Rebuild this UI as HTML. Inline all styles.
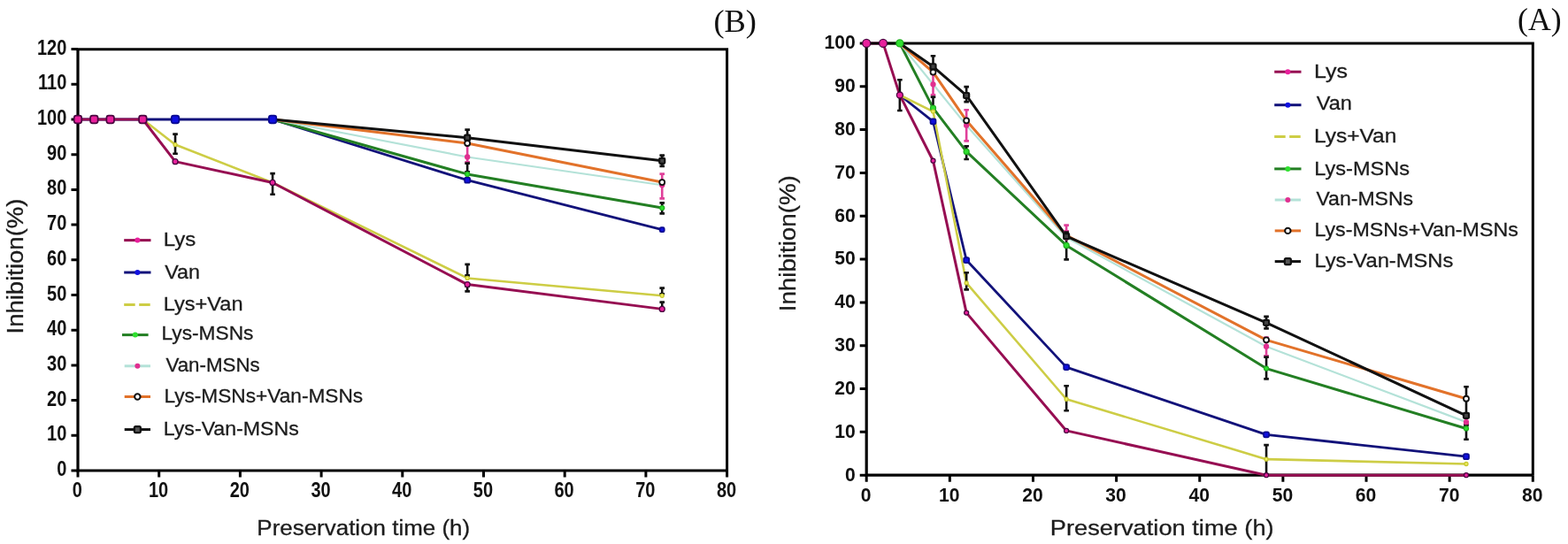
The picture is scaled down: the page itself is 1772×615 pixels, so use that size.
<!DOCTYPE html><html><head><meta charset="utf-8"><title>Inhibition vs preservation time</title><style>
html,body{margin:0;padding:0;background:#fff;width:1772px;height:615px;overflow:hidden}
svg{display:block}
.tk{font-family:"Liberation Sans", Arial, sans-serif;font-weight:bold;font-size:22px;fill:#111}.tkL{font-family:"Liberation Sans", Arial, sans-serif;font-weight:bold;font-size:23px;fill:#111}.tkR{font-family:"Liberation Sans", Arial, sans-serif;font-weight:bold;font-size:22.5px;fill:#111}.ax{font-family:"Liberation Sans", Arial, sans-serif;font-size:24px;fill:#1c1c1c;stroke:#1c1c1c;stroke-width:0.3px}.ay{font-family:"Liberation Sans", Arial, sans-serif;font-size:26px;fill:#1c1c1c;stroke:#1c1c1c;stroke-width:0.3px}.lg{font-family:"Liberation Sans", Arial, sans-serif;font-size:22.5px;fill:#1c1c1c;stroke:#1c1c1c;stroke-width:0.3px}.pl{font-family:"Liberation Serif", "Times New Roman", serif;font-size:36px;fill:#111}
</style></head><body>
<svg width="1772" height="615" viewBox="0 0 1772 615">
<rect width="1772" height="615" fill="#fff"/>
<path d="M80.5 532H88M80.5 492.3H88M80.5 452.6H88M80.5 412.9H88M80.5 373.2H88M80.5 333.5H88M80.5 293.8H88M80.5 254.1H88M80.5 214.4H88M80.5 174.7H88M80.5 135H88M80.5 95.3H88M80.5 55.6H88M88 532V539.5M179.7 532V539.5M271.4 532V539.5M363.1 532V539.5M454.8 532V539.5M546.5 532V539.5M638.2 532V539.5M729.9 532V539.5M821.6 532V539.5" stroke="#000" stroke-width="3"/>
<text class="tkL" transform="translate(75.3 538) scale(0.87 1)" text-anchor="end">0</text>
<text class="tkL" transform="translate(75.3 498.3) scale(0.87 1)" text-anchor="end">10</text>
<text class="tkL" transform="translate(75.3 458.6) scale(0.87 1)" text-anchor="end">20</text>
<text class="tkL" transform="translate(75.3 418.9) scale(0.87 1)" text-anchor="end">30</text>
<text class="tkL" transform="translate(75.3 379.2) scale(0.87 1)" text-anchor="end">40</text>
<text class="tkL" transform="translate(75.3 339.5) scale(0.87 1)" text-anchor="end">50</text>
<text class="tkL" transform="translate(75.3 299.8) scale(0.87 1)" text-anchor="end">60</text>
<text class="tkL" transform="translate(75.3 260.1) scale(0.87 1)" text-anchor="end">70</text>
<text class="tkL" transform="translate(75.3 220.4) scale(0.87 1)" text-anchor="end">80</text>
<text class="tkL" transform="translate(75.3 180.7) scale(0.87 1)" text-anchor="end">90</text>
<text class="tkL" transform="translate(75.3 141) scale(0.87 1)" text-anchor="end">100</text>
<text class="tkL" transform="translate(75.3 101.3) scale(0.87 1)" text-anchor="end">110</text>
<text class="tkL" transform="translate(75.3 61.6) scale(0.87 1)" text-anchor="end">120</text>
<text class="tkL" transform="translate(87.4 562) scale(0.87 1)" text-anchor="middle">0</text>
<text class="tkL" transform="translate(179.1 562) scale(0.87 1)" text-anchor="middle">10</text>
<text class="tkL" transform="translate(270.8 562) scale(0.87 1)" text-anchor="middle">20</text>
<text class="tkL" transform="translate(362.5 562) scale(0.87 1)" text-anchor="middle">30</text>
<text class="tkL" transform="translate(454.2 562) scale(0.87 1)" text-anchor="middle">40</text>
<text class="tkL" transform="translate(545.9 562) scale(0.87 1)" text-anchor="middle">50</text>
<text class="tkL" transform="translate(637.6 562) scale(0.87 1)" text-anchor="middle">60</text>
<text class="tkL" transform="translate(729.3 562) scale(0.87 1)" text-anchor="middle">70</text>
<text class="tkL" transform="translate(821 562) scale(0.87 1)" text-anchor="middle">80</text>
<text class="ax" transform="translate(290.34 605.2) scale(1.0817 1)">Preservation time (h)</text>
<text class="ay" transform="translate(26 377.52) rotate(-90) scale(1.0596 1)">Inhibition(%)</text>
<text class="pl" transform="translate(806.38 36.2) scale(1.0114 1)">(B)</text>
<path d="M88 55.8V532H821.6" fill="none" stroke="#000" stroke-width="3.2"/>
<path d="M88 135 L308.08 135 L528.16 203.68 L748.24 259.66" fill="none" stroke="#12127A" stroke-width="2.8" stroke-linejoin="round"/>
<path d="M308.08 135 L528.16 196.93 L748.24 235.04" fill="none" stroke="#237F23" stroke-width="3" stroke-linejoin="round"/>
<path d="M308.08 135 L528.16 177.48 L748.24 209.24" fill="none" stroke="#B4E2D8" stroke-width="2.2" stroke-linejoin="round"/>
<path d="M308.08 135 L528.16 162 L748.24 206.06" fill="none" stroke="#E2722A" stroke-width="3" stroke-linejoin="round"/>
<path d="M308.08 135 L528.16 155.64 L748.24 181.85" fill="none" stroke="#111111" stroke-width="3" stroke-linejoin="round"/>
<path d="M161.36 135 L198.04 163.58 L308.08 206.46 L528.16 314.44 L748.24 334.29" fill="none" stroke="#CDCD45" stroke-width="2.6" stroke-linejoin="round"/>
<path d="M88 135 L106.34 135 L124.68 135 L161.36 135 L198.04 182.64 L308.08 206.46 L528.16 321.59 L748.24 349.38" fill="none" stroke="#960E52" stroke-width="3" stroke-linejoin="round"/>
<path d="M86.4 55.8H821.6V532" fill="none" stroke="#000" stroke-width="3"/>
<path d="M198.04 151V174.4M195.24 151.6H200.84M195.24 173.8H200.84" stroke="#111" stroke-width="2.6"/>
<path d="M308.08 195.5V220.3M305.28 196.1H310.88M305.28 219.7H310.88" stroke="#111" stroke-width="2.6"/>
<path d="M528.16 146V158M525.36 146.6H530.96M525.36 157.4H530.96" stroke="#111" stroke-width="2.6"/>
<path d="M528.16 163V184M525.36 163.6H530.96M525.36 183.4H530.96" stroke="#E0409A" stroke-width="2.6"/>
<path d="M528.16 184V195M525.36 184.6H530.96M525.36 194.4H530.96" stroke="#111" stroke-width="2.6"/>
<path d="M528.16 298.3V312M525.36 298.9H530.96M525.36 311.4H530.96" stroke="#111" stroke-width="2.6"/>
<path d="M528.16 323V330M525.36 323.6H530.96M525.36 329.4H530.96" stroke="#111" stroke-width="2.6"/>
<path d="M748.24 175V188.5M745.44 175.6H751.04M745.44 187.9H751.04" stroke="#111" stroke-width="2.6"/>
<path d="M748.24 196V225M745.44 196.6H751.04M745.44 224.4H751.04" stroke="#E0409A" stroke-width="2.6"/>
<path d="M748.24 228.8V242M745.44 229.4H751.04M745.44 241.4H751.04" stroke="#111" stroke-width="2.6"/>
<path d="M748.24 325V333M745.44 325.6H751.04M745.44 332.4H751.04" stroke="#111" stroke-width="2.6"/>
<path d="M748.24 341V349.5M745.44 341.6H751.04M745.44 348.9H751.04" stroke="#111" stroke-width="2.6"/>
<rect x="193.74" y="130.7" width="8.6" height="8.6" rx="2.58" fill="#1010E0" stroke="#0A0A90" stroke-width="1.7"/>
<rect x="303.78" y="130.7" width="8.6" height="8.6" rx="2.58" fill="#1010E0" stroke="#0A0A90" stroke-width="1.7"/>
<rect x="525.16" y="200.68" width="6" height="6" rx="1.8" fill="#1010E0" stroke="#0A0A90" stroke-width="1.7"/>
<rect x="745.74" y="257.16" width="5" height="5" rx="1.5" fill="#1010E0" stroke="#0A0A90" stroke-width="1.7"/>
<circle cx="528.16" cy="196.93" r="2.5" fill="#30E030" stroke="#20B020" stroke-width="1.3"/>
<circle cx="748.24" cy="235.04" r="2.5" fill="#30E030" stroke="#20B020" stroke-width="1.3"/>
<circle cx="528.16" cy="177.48" r="2.5" fill="#E03090" stroke="#E03090" stroke-width="1.3"/>
<circle cx="748.24" cy="209.24" r="2.5" fill="#E03090" stroke="#E03090" stroke-width="1.3"/>
<circle cx="528.16" cy="162" r="3" fill="#fff" stroke="#111" stroke-width="1.8"/>
<circle cx="748.24" cy="206.06" r="3" fill="#fff" stroke="#111" stroke-width="1.8"/>
<rect x="525.16" y="152.64" width="6" height="6" rx="1" fill="#444" stroke="#111" stroke-width="2.2"/>
<rect x="745.24" y="178.85" width="6" height="6" rx="1" fill="#444" stroke="#111" stroke-width="2.2"/>
<circle cx="198.04" cy="163.58" r="2" fill="#F0F060" stroke="#C8C830" stroke-width="1.3"/>
<circle cx="528.16" cy="314.44" r="2" fill="#F0F060" stroke="#C8C830" stroke-width="1.3"/>
<circle cx="748.24" cy="334.29" r="2" fill="#F0F060" stroke="#C8C830" stroke-width="1.3"/>
<rect x="83.7" y="130.7" width="8.6" height="8.6" rx="2.58" fill="#E8209C" stroke="#4A0640" stroke-width="1.7"/>
<rect x="102.04" y="130.7" width="8.6" height="8.6" rx="2.58" fill="#E8209C" stroke="#4A0640" stroke-width="1.7"/>
<rect x="120.38" y="130.7" width="8.6" height="8.6" rx="2.58" fill="#E8209C" stroke="#4A0640" stroke-width="1.7"/>
<rect x="157.06" y="130.7" width="8.6" height="8.6" rx="2.58" fill="#E8209C" stroke="#4A0640" stroke-width="1.7"/>
<circle cx="198.04" cy="182.64" r="3" fill="#E8209C" stroke="#4A0640" stroke-width="1.3"/>
<circle cx="308.08" cy="206.46" r="3" fill="#E8209C" stroke="#4A0640" stroke-width="1.3"/>
<circle cx="528.16" cy="321.59" r="3" fill="#E8209C" stroke="#4A0640" stroke-width="1.3"/>
<circle cx="748.24" cy="349.38" r="3" fill="#E8209C" stroke="#4A0640" stroke-width="1.3"/>
<path d="M140.2 271.6H170.5" stroke="#960E52" stroke-width="3"/>
<circle cx="155.35" cy="271.6" r="3" fill="#E8209C"/>
<text class="lg" transform="translate(184.77 277.8) scale(1.0656 1)">Lys</text>
<path d="M140.2 308H170.5" stroke="#12127A" stroke-width="3"/>
<circle cx="155.35" cy="308" r="3" fill="#1010E0"/>
<text class="lg" transform="translate(186.2 314.9) scale(1.0351 1)">Van</text>
<path d="M140.2 344.5H170.5" stroke="#CDCD45" stroke-width="3" stroke-dasharray="12.5 4.5"/>
<text class="lg" transform="translate(184.8 351.3) scale(1.0482 1)">Lys+Van</text>
<path d="M138 378.6H167.6" stroke="#237F23" stroke-width="3"/>
<circle cx="152.8" cy="378.6" r="3" fill="#30E030"/>
<text class="lg" transform="translate(182.58 384.3) scale(1.0090 1)">Lys-MSNs</text>
<path d="M140.7 413.8H170" stroke="#B4E2D8" stroke-width="3"/>
<circle cx="155.35" cy="413.8" r="3" fill="#E03090"/>
<text class="lg" transform="translate(187.4 420.3) scale(0.9934 1)">Van-MSNs</text>
<path d="M140.7 448.5H170" stroke="#E2722A" stroke-width="3"/>
<circle cx="155.35" cy="448.5" r="3.2" fill="#fff" stroke="#111" stroke-width="2"/>
<text class="lg" transform="translate(185.39 455.3) scale(1.0072 1)">Lys-MSNs+Van-MSNs</text>
<path d="M140.7 485.6H170" stroke="#111111" stroke-width="3"/>
<rect x="151.85" y="482.1" width="7" height="7" rx="1.5" fill="#555" stroke="#111" stroke-width="2.2"/>
<text class="lg" transform="translate(184.74 492.1) scale(1.0295 1)">Lys-Van-MSNs</text>
<path d="M971.7 537.2H979.2M971.7 488.37H979.2M971.7 439.54H979.2M971.7 390.71H979.2M971.7 341.88H979.2M971.7 293.05H979.2M971.7 244.22H979.2M971.7 195.39H979.2M971.7 146.56H979.2M971.7 97.73H979.2M971.7 48.9H979.2M979.2 537.2V544.7M1073.34 537.2V544.7M1167.47 537.2V544.7M1261.61 537.2V544.7M1355.75 537.2V544.7M1449.89 537.2V544.7M1544.03 537.2V544.7M1638.16 537.2V544.7M1732.3 537.2V544.7" stroke="#000" stroke-width="3"/>
<text class="tkR" transform="translate(966.8 543.5) scale(0.94 1)" text-anchor="end">0</text>
<text class="tkR" transform="translate(966.8 494.67) scale(0.94 1)" text-anchor="end">10</text>
<text class="tkR" transform="translate(966.8 445.84) scale(0.94 1)" text-anchor="end">20</text>
<text class="tkR" transform="translate(966.8 397.01) scale(0.94 1)" text-anchor="end">30</text>
<text class="tkR" transform="translate(966.8 348.18) scale(0.94 1)" text-anchor="end">40</text>
<text class="tkR" transform="translate(966.8 299.35) scale(0.94 1)" text-anchor="end">50</text>
<text class="tkR" transform="translate(966.8 250.52) scale(0.94 1)" text-anchor="end">60</text>
<text class="tkR" transform="translate(966.8 201.69) scale(0.94 1)" text-anchor="end">70</text>
<text class="tkR" transform="translate(966.8 152.86) scale(0.94 1)" text-anchor="end">80</text>
<text class="tkR" transform="translate(966.8 104.03) scale(0.94 1)" text-anchor="end">90</text>
<text class="tkR" transform="translate(966.8 55.2) scale(0.94 1)" text-anchor="end">100</text>
<text class="tkR" transform="translate(978.7 567.2) scale(0.94 1)" text-anchor="middle">0</text>
<text class="tkR" transform="translate(1072.84 567.2) scale(0.94 1)" text-anchor="middle">10</text>
<text class="tkR" transform="translate(1166.97 567.2) scale(0.94 1)" text-anchor="middle">20</text>
<text class="tkR" transform="translate(1261.11 567.2) scale(0.94 1)" text-anchor="middle">30</text>
<text class="tkR" transform="translate(1355.25 567.2) scale(0.94 1)" text-anchor="middle">40</text>
<text class="tkR" transform="translate(1449.39 567.2) scale(0.94 1)" text-anchor="middle">50</text>
<text class="tkR" transform="translate(1543.53 567.2) scale(0.94 1)" text-anchor="middle">60</text>
<text class="tkR" transform="translate(1637.66 567.2) scale(0.94 1)" text-anchor="middle">70</text>
<text class="tkR" transform="translate(1731.8 567.2) scale(0.94 1)" text-anchor="middle">80</text>
<text class="ax" transform="translate(1186.73 605) scale(1.1361 1)">Preservation time (h)</text>
<text class="ay" transform="translate(898.5 352.33) rotate(-90) scale(1.0674 1)">Inhibition(%)</text>
<text class="pl" transform="translate(1715.02 33.6) scale(0.9913 1)">(A)</text>
<path d="M979.2 49V537.2H1732.3" fill="none" stroke="#000" stroke-width="3.2"/>
<path d="M998.03 48.9 L1016.86 48.9 L1054.51 122.14 L1092.16 171.46 L1205.13 277.42 L1431.06 416.59 L1656.99 484.46" fill="none" stroke="#237F23" stroke-width="3" stroke-linejoin="round"/>
<path d="M1016.86 48.9 L1054.51 95.29 L1092.16 141.68 L1205.13 268.63 L1431.06 391.69 L1656.99 477.14" fill="none" stroke="#B4E2D8" stroke-width="2.2" stroke-linejoin="round"/>
<path d="M1016.86 48.9 L1054.51 81.62 L1092.16 136.31 L1205.13 266.19 L1431.06 384.36 L1656.99 450.77" fill="none" stroke="#E2722A" stroke-width="3" stroke-linejoin="round"/>
<path d="M1016.86 48.9 L1054.51 75.27 L1092.16 107.98 L1205.13 267.17 L1431.06 364.83 L1656.99 469.81" fill="none" stroke="#111111" stroke-width="3" stroke-linejoin="round"/>
<path d="M1016.86 107.5 L1054.51 137.28 L1092.16 294.03 L1205.13 415.12 L1431.06 491.3 L1656.99 516.2" fill="none" stroke="#12127A" stroke-width="2.8" stroke-linejoin="round"/>
<path d="M1016.86 107.5 L1054.51 126.05 L1092.16 319.91 L1205.13 451.26 L1431.06 519.13 L1656.99 524.5" fill="none" stroke="#CDCD45" stroke-width="2.6" stroke-linejoin="round"/>
<path d="M979.2 48.9 L998.03 48.9 L1016.86 107.5 L1054.51 181.72 L1092.16 353.6 L1205.13 486.91 L1431.06 537.2 L1656.99 537.2" fill="none" stroke="#960E52" stroke-width="3" stroke-linejoin="round"/>
<path d="M977.6 49H1732.3V537.2" fill="none" stroke="#000" stroke-width="3"/>
<path d="M1016.86 89.7V125.6M1014.06 90.3H1019.65M1014.06 125H1019.65" stroke="#111" stroke-width="2.6"/>
<path d="M1054.51 62.7V82.8M1051.71 63.3H1057.31M1051.71 82.2H1057.31" stroke="#111" stroke-width="2.6"/>
<path d="M1054.51 82.8V107.8M1051.71 83.4H1057.31M1051.71 107.2H1057.31" stroke="#E0409A" stroke-width="2.6"/>
<path d="M1054.51 109V122.6M1051.71 109.6H1057.31M1051.71 122H1057.31" stroke="#111" stroke-width="2.6"/>
<path d="M1092.16 97.5V115.7M1089.37 98.1H1094.96M1089.37 115.1H1094.96" stroke="#111" stroke-width="2.6"/>
<path d="M1092.16 123.7V160M1089.37 124.3H1094.96M1089.37 159.4H1094.96" stroke="#E0409A" stroke-width="2.6"/>
<path d="M1092.16 164.7V180.6M1089.37 165.3H1094.96M1089.37 180H1094.96" stroke="#111" stroke-width="2.6"/>
<path d="M1092.16 307.7V328M1089.37 308.3H1094.96M1089.37 327.4H1094.96" stroke="#111" stroke-width="2.6"/>
<path d="M1205.13 254V262M1202.33 254.6H1207.93M1202.33 261.4H1207.93" stroke="#E0409A" stroke-width="2.6"/>
<path d="M1205.13 262V294M1202.33 262.6H1207.93M1202.33 293.4H1207.93" stroke="#111" stroke-width="2.6"/>
<path d="M1205.13 435.7V464.9M1202.33 436.3H1207.93M1202.33 464.3H1207.93" stroke="#111" stroke-width="2.6"/>
<path d="M1431.06 357.3V372M1428.26 357.9H1433.86M1428.26 371.4H1433.86" stroke="#111" stroke-width="2.6"/>
<path d="M1431.06 381V403M1428.26 381.6H1433.86M1428.26 402.4H1433.86" stroke="#E0409A" stroke-width="2.6"/>
<path d="M1431.06 403V429M1428.26 403.6H1433.86M1428.26 428.4H1433.86" stroke="#111" stroke-width="2.6"/>
<path d="M1431.06 502.5V537M1428.26 503.1H1433.86M1428.26 536.4H1433.86" stroke="#111" stroke-width="2.6"/>
<path d="M1656.99 436.6V470M1654.19 437.2H1659.79M1654.19 469.4H1659.79" stroke="#111" stroke-width="2.6"/>
<path d="M1656.99 470V480M1654.19 470.6H1659.79M1654.19 479.4H1659.79" stroke="#E0409A" stroke-width="2.6"/>
<path d="M1656.99 480V497.3M1654.19 480.6H1659.79M1654.19 496.7H1659.79" stroke="#111" stroke-width="2.6"/>
<circle cx="1016.86" cy="48.9" r="4" fill="#30E030" stroke="#20B020" stroke-width="1.3"/>
<circle cx="1054.51" cy="122.14" r="3" fill="#30E030" stroke="#20B020" stroke-width="1.3"/>
<circle cx="1092.16" cy="171.46" r="3" fill="#30E030" stroke="#20B020" stroke-width="1.3"/>
<circle cx="1205.13" cy="277.42" r="3" fill="#30E030" stroke="#20B020" stroke-width="1.3"/>
<circle cx="1431.06" cy="416.59" r="2.5" fill="#30E030" stroke="#20B020" stroke-width="1.3"/>
<circle cx="1656.99" cy="484.46" r="2.5" fill="#30E030" stroke="#20B020" stroke-width="1.3"/>
<circle cx="1054.51" cy="95.29" r="2.5" fill="#E03090" stroke="#E03090" stroke-width="1.3"/>
<circle cx="1092.16" cy="141.68" r="2.5" fill="#E03090" stroke="#E03090" stroke-width="1.3"/>
<circle cx="1205.13" cy="268.63" r="2.5" fill="#E03090" stroke="#E03090" stroke-width="1.3"/>
<circle cx="1431.06" cy="391.69" r="2.5" fill="#E03090" stroke="#E03090" stroke-width="1.3"/>
<circle cx="1656.99" cy="477.14" r="2.5" fill="#E03090" stroke="#E03090" stroke-width="1.3"/>
<circle cx="1054.51" cy="81.62" r="3" fill="#fff" stroke="#111" stroke-width="1.8"/>
<circle cx="1092.16" cy="136.31" r="3" fill="#fff" stroke="#111" stroke-width="1.8"/>
<circle cx="1205.13" cy="266.19" r="3" fill="#fff" stroke="#111" stroke-width="1.8"/>
<circle cx="1431.06" cy="384.36" r="3" fill="#fff" stroke="#111" stroke-width="1.8"/>
<circle cx="1656.99" cy="450.77" r="3" fill="#fff" stroke="#111" stroke-width="1.8"/>
<rect x="1051.51" y="72.27" width="6" height="6" rx="1" fill="#444" stroke="#111" stroke-width="2.2"/>
<rect x="1089.16" y="104.98" width="6" height="6" rx="1" fill="#444" stroke="#111" stroke-width="2.2"/>
<rect x="1202.13" y="264.17" width="6" height="6" rx="1" fill="#444" stroke="#111" stroke-width="2.2"/>
<rect x="1428.06" y="361.83" width="6" height="6" rx="1" fill="#444" stroke="#111" stroke-width="2.2"/>
<rect x="1653.99" y="466.81" width="6" height="6" rx="1" fill="#444" stroke="#111" stroke-width="2.2"/>
<rect x="1051.51" y="134.28" width="6" height="6" rx="1.8" fill="#1010E0" stroke="#0A0A90" stroke-width="1.7"/>
<rect x="1089.16" y="291.03" width="6" height="6" rx="1.8" fill="#1010E0" stroke="#0A0A90" stroke-width="1.7"/>
<rect x="1202.13" y="412.12" width="6" height="6" rx="1.8" fill="#1010E0" stroke="#0A0A90" stroke-width="1.7"/>
<rect x="1428.06" y="488.3" width="6" height="6" rx="1.8" fill="#1010E0" stroke="#0A0A90" stroke-width="1.7"/>
<rect x="1653.99" y="513.2" width="6" height="6" rx="1.8" fill="#1010E0" stroke="#0A0A90" stroke-width="1.7"/>
<circle cx="1054.51" cy="126.05" r="2" fill="#F0F060" stroke="#C8C830" stroke-width="1.3"/>
<circle cx="1092.16" cy="319.91" r="2" fill="#F0F060" stroke="#C8C830" stroke-width="1.3"/>
<circle cx="1205.13" cy="451.26" r="2" fill="#F0F060" stroke="#C8C830" stroke-width="1.3"/>
<circle cx="1431.06" cy="519.13" r="2" fill="#F0F060" stroke="#C8C830" stroke-width="1.3"/>
<circle cx="1656.99" cy="524.5" r="2" fill="#F0F060" stroke="#C8C830" stroke-width="1.3"/>
<circle cx="979.2" cy="48.9" r="4.5" fill="#E8209C" stroke="#4A0640" stroke-width="1.3"/>
<circle cx="998.03" cy="48.9" r="4.5" fill="#E8209C" stroke="#4A0640" stroke-width="1.3"/>
<circle cx="1016.86" cy="107.5" r="3.5" fill="#E8209C" stroke="#4A0640" stroke-width="1.3"/>
<circle cx="1054.51" cy="181.72" r="2.5" fill="#E8209C" stroke="#4A0640" stroke-width="1.3"/>
<circle cx="1092.16" cy="353.6" r="2.5" fill="#E8209C" stroke="#4A0640" stroke-width="1.3"/>
<circle cx="1205.13" cy="486.91" r="2.5" fill="#E8209C" stroke="#4A0640" stroke-width="1.3"/>
<circle cx="1431.06" cy="537.2" r="2.5" fill="#E8209C" stroke="#4A0640" stroke-width="1.3"/>
<circle cx="1656.99" cy="537.2" r="2.5" fill="#E8209C" stroke="#4A0640" stroke-width="1.3"/>
<path d="M1440.2 81.2H1470.5" stroke="#960E52" stroke-width="3"/>
<circle cx="1455.35" cy="81.2" r="3" fill="#E8209C"/>
<text class="lg" transform="translate(1484.98 87.5) scale(1.1094 1)">Lys</text>
<path d="M1440.2 118.7H1470.5" stroke="#12127A" stroke-width="3"/>
<circle cx="1455.35" cy="118.7" r="3" fill="#1010E0"/>
<text class="lg" transform="translate(1487.7 124.4) scale(1.0459 1)">Van</text>
<path d="M1440.2 154.5H1470.5" stroke="#CDCD45" stroke-width="3" stroke-dasharray="12.5 4.5"/>
<text class="lg" transform="translate(1485.02 160.5) scale(1.0892 1)">Lys+Van</text>
<path d="M1440.2 190.9H1470.5" stroke="#237F23" stroke-width="3"/>
<circle cx="1455.35" cy="190.9" r="3" fill="#30E030"/>
<text class="lg" transform="translate(1485.31 197.9) scale(1.0470 1)">Lys-MSNs</text>
<path d="M1440.7 226H1470" stroke="#B4E2D8" stroke-width="3"/>
<circle cx="1455.35" cy="226" r="3" fill="#E03090"/>
<text class="lg" transform="translate(1487.4 232) scale(1.0255 1)">Van-MSNs</text>
<path d="M1440.7 260.9H1470" stroke="#E2722A" stroke-width="3"/>
<circle cx="1455.35" cy="260.9" r="3.2" fill="#fff" stroke="#111" stroke-width="2"/>
<text class="lg" transform="translate(1485.43 267.3) scale(1.0326 1)">Lys-MSNs+Van-MSNs</text>
<path d="M1440.7 295.6H1470" stroke="#111111" stroke-width="3"/>
<rect x="1451.85" y="292.1" width="7" height="7" rx="1.5" fill="#555" stroke="#111" stroke-width="2.2"/>
<text class="lg" transform="translate(1485.39 301.8) scale(1.0555 1)">Lys-Van-MSNs</text>
</svg></body></html>
